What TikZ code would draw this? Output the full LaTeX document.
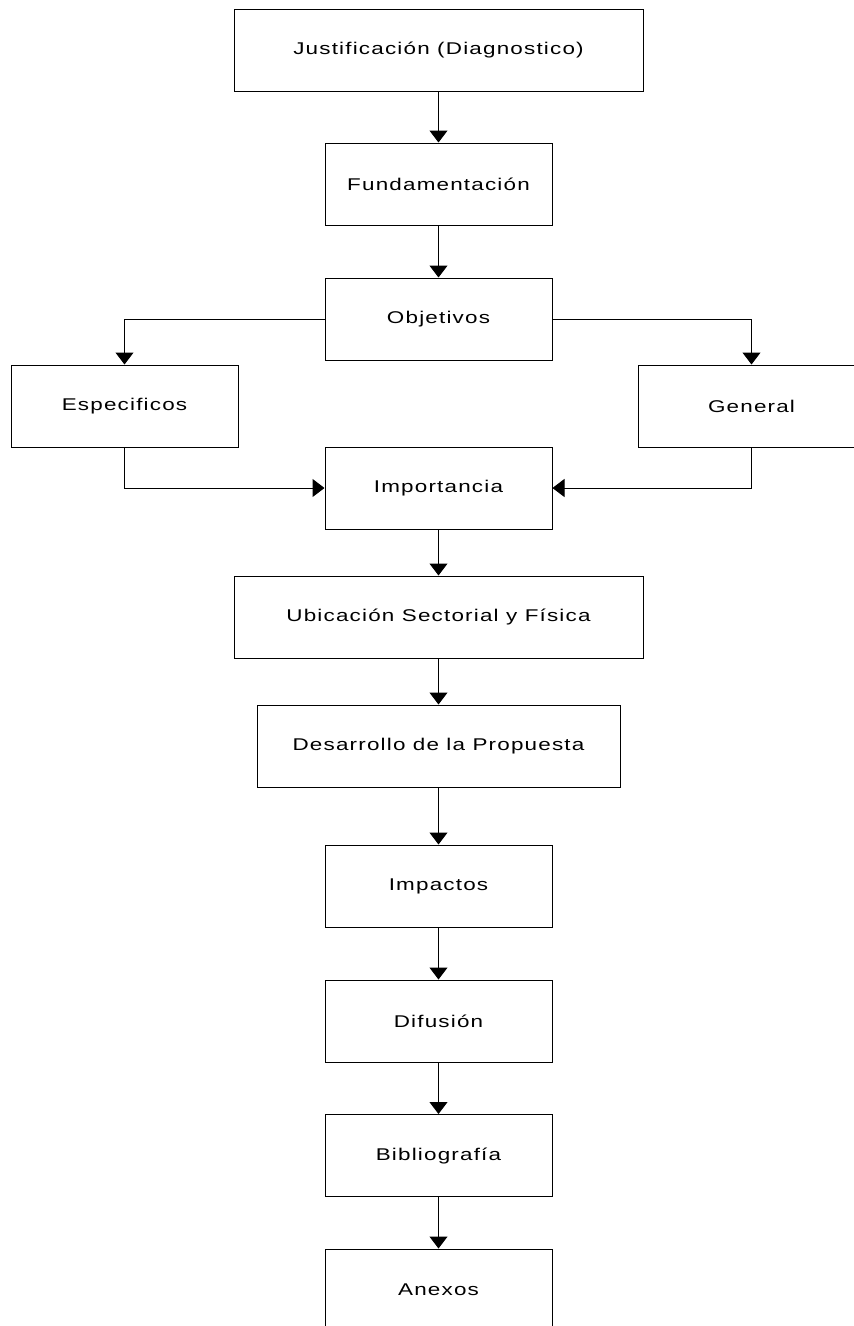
\documentclass[tikz,border=0pt]{standalone}
\usepackage{fontspec}
\setmainfont{Liberation Sans}[FakeStretch=1.32,LetterSpace=7]
\usetikzlibrary{arrows.meta}
\begin{document}
\begin{tikzpicture}[x=1pt,y=-1pt,
  box/.style={draw=black, line width=1pt, rectangle, inner sep=0pt, minimum height=82pt,
    font=\fontsize{17}{20}\selectfont, text=black},
  conn/.style={draw=black, line width=1pt, -{Triangle[width=18pt,length=12pt]}}]
\useasboundingbox (0,0) rectangle (854,1326);
\clip (0,0) rectangle (854,1326);
\fill[white] (0,0) rectangle (854,1326);
\node[box, minimum width=409pt] (just) at (438.5,50) {Justificación (Diagnostico)};
\node[box, minimum width=227pt] (fund) at (438.5,184) {Fundamentación};
\node[box, minimum width=227pt] (obj) at (438.5,319) {Objetivos};
\node[box, minimum width=227pt] (esp) at (124.5,406) {Especificos};
\node[box, minimum width=227pt] (gen) at (751.5,406) {General};
\node[box, minimum width=227pt] (imp) at (438.5,488) {Importancia};
\node[box, minimum width=409pt] (ubi) at (438.5,617) {Ubicación Sectorial y Física};
\node[box, minimum width=363pt] (des) at (438.5,746) {Desarrollo de la Propuesta};
\node[box, minimum width=227pt] (impa) at (438.5,886) {Impactos};
\node[box, minimum width=227pt] (dif) at (438.5,1021) {Difusión};
\node[box, minimum width=227pt] (bib) at (438.5,1155.5) {Bibliografía};
\node[box, minimum width=227pt] (anx) at (438.5,1290) {Anexos};
\draw[conn] (just) -- (fund);
\draw[conn] (fund) -- (obj);
\draw[conn] (obj.west) -| (esp.north);
\draw[conn] (obj.east) -| (gen.north);
\draw[conn] (esp.south) |- (imp.west);
\draw[conn] (gen.south) |- (imp.east);
\draw[conn] (imp) -- (ubi);
\draw[conn] (ubi) -- (des);
\draw[conn] (des) -- (impa);
\draw[conn] (impa) -- (dif);
\draw[conn] (dif) -- (bib);
\draw[conn] (bib) -- (anx);
\end{tikzpicture}
\end{document}
